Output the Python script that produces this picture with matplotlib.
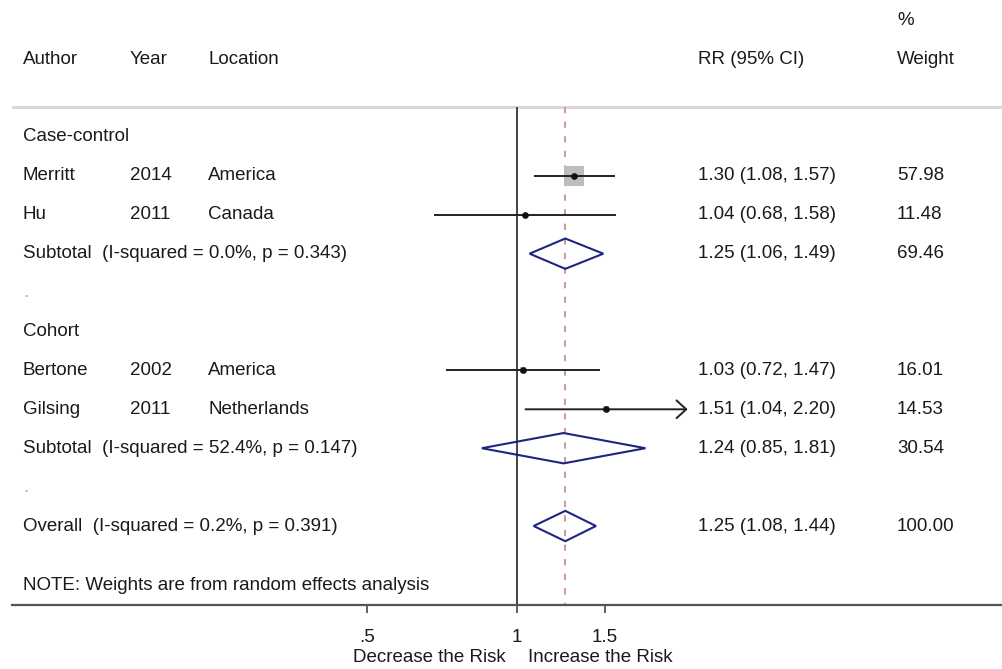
import matplotlib
matplotlib.use('Agg')
import matplotlib.pyplot as plt
import matplotlib.transforms as mtransforms
from matplotlib.patches import Polygon

plt.rcParams['font.family'] = ['Liberation Sans', 'DejaVu Sans']

# studies
authors = ['Merritt', 'Hu', 'Bertone', 'Gilsing']
years = ['2014', '2011', '2002', '2011']
locations = ['America', 'Canada', 'America', 'Netherlands']
study_rows = [1, 2, 6, 7]
rr = [1.30, 1.04, 1.03, 1.51]
lo = [1.08, 0.68, 0.72, 1.04]
hi = [1.57, 1.58, 1.47, 2.20]
weights = [57.98, 11.48, 16.01, 14.53]

# pooled estimates
pooled_labels = ['Subtotal  (I-squared = 0.0%, p = 0.343)',
                 'Subtotal  (I-squared = 52.4%, p = 0.147)',
                 'Overall  (I-squared = 0.2%, p = 0.391)']
pooled_rows = [3, 8, 10]
pooled_rr = [1.25, 1.24, 1.25]
pooled_lo = [1.06, 0.85, 1.08]
pooled_hi = [1.49, 1.81, 1.44]
pooled_w = [69.46, 30.54, 100.00]

group_labels = ['Case-control', 'Cohort']
group_rows = [0, 5]
dot_rows = [4, 9]

xticks = [0.5, 1, 1.5]
xticklabels = ['.5', '1', '1.5']
overall_rr = 1.25

txt = '#1a1a1a'
fs = 13.5

fig = plt.figure(figsize=(10.02, 6.69), dpi=100)
ax = fig.add_axes([12 / 1002, 64 / 669, 990 / 1002, 605 / 669])
ax.set_xscale('log')
ax.set_xlim(0.097, 9.4)
ax.set_ylim(12.03, -3.52)

for s in ['top', 'left', 'right']:
    ax.spines[s].set_visible(False)
ax.spines['bottom'].set_color('#555555')
ax.spines['bottom'].set_linewidth(1.6)
ax.set_yticks([])
ax.xaxis.set_major_locator(matplotlib.ticker.FixedLocator(xticks))
ax.xaxis.set_minor_locator(matplotlib.ticker.NullLocator())
ax.set_xticklabels(xticklabels)
ax.tick_params(axis='x', length=6, width=1.3, color='#555555', pad=11,
               labelsize=fs, labelcolor=txt)

# text columns (blended: figure-x, data-y)
tr = mtransforms.blended_transform_factory(fig.transFigure, ax.transData)
def col(px):
    return px / 1002

# header
ax.text(col(23), -2, 'Author', transform=tr, fontsize=fs, color=txt, va='center')
ax.text(col(130), -2, 'Year', transform=tr, fontsize=fs, color=txt, va='center')
ax.text(col(208), -2, 'Location', transform=tr, fontsize=fs, color=txt, va='center')
ax.text(col(698), -2, 'RR (95% CI)', transform=tr, fontsize=fs, color=txt, va='center')
ax.text(col(897), -3, '%', transform=tr, fontsize=fs, color=txt, va='center')
ax.text(col(897), -2, 'Weight', transform=tr, fontsize=fs, color=txt, va='center')
ax.axhline(-0.77, color='#d9d9d9', lw=2.2)

# reference lines
ax.vlines(1, -0.77, 12.03, color='#444444', lw=1.4)
ax.vlines(overall_rr, -0.77, 12.03, color='#cf9aa2', lw=1.5, linestyles=(0, (3, 4)))

for g, r in zip(group_labels, group_rows):
    ax.text(col(23), r, g, transform=tr, fontsize=fs, color=txt, va='center')
for r in dot_rows:
    ax.text(col(23), r, '.', transform=tr, fontsize=fs, color='#aaaaaa', va='center')

for i in range(len(authors)):
    r = study_rows[i]
    ax.text(col(23), r, authors[i], transform=tr, fontsize=fs, color=txt, va='center')
    ax.text(col(130), r, years[i], transform=tr, fontsize=fs, color=txt, va='center')
    ax.text(col(208), r, locations[i], transform=tr, fontsize=fs, color=txt, va='center')
    ax.text(col(698), r, '%.2f (%.2f, %.2f)' % (rr[i], lo[i], hi[i]), transform=tr,
            fontsize=fs, color=txt, va='center')
    ax.text(col(897), r, '%.2f' % weights[i], transform=tr, fontsize=fs, color=txt,
            va='center')
    ax.scatter([rr[i]], [r], s=(weights[i] * 0.25) ** 2, marker='s', color='#bdbdbd',
               linewidths=0, zorder=3)
    if hi[i] >= 2.2:
        ax.annotate('', xy=(hi[i], r), xytext=(lo[i], r),
                    arrowprops=dict(arrowstyle='->,head_length=0.35,head_width=0.32',
                                    mutation_scale=20, lw=1.4, color='#222222',
                                    shrinkA=0, shrinkB=0), zorder=4)
    else:
        ax.plot([lo[i], hi[i]], [r, r], color='#222222', lw=1.4, zorder=4,
                solid_capstyle='butt')
    ax.plot([rr[i]], [r], 'o', color='#111111', markersize=3.8, zorder=5)

for i in range(len(pooled_labels)):
    r = pooled_rows[i]
    ax.text(col(23), r, pooled_labels[i], transform=tr, fontsize=fs, color=txt,
            va='center')
    ax.text(col(698), r, '%.2f (%.2f, %.2f)' % (pooled_rr[i], pooled_lo[i], pooled_hi[i]),
            transform=tr, fontsize=fs, color=txt, va='center')
    ax.text(col(897), r, '%.2f' % pooled_w[i], transform=tr, fontsize=fs, color=txt,
            va='center')
    h = 0.39
    ax.add_patch(Polygon([(pooled_lo[i], r), (pooled_rr[i], r - h),
                          (pooled_hi[i], r), (pooled_rr[i], r + h)],
                         closed=True, fill=False, edgecolor='#1f2480', lw=1.5,
                         zorder=4))

ax.text(col(23), 11.52, 'NOTE: Weights are from random effects analysis', transform=tr,
        fontsize=fs, color=txt, va='center')

fig.text(506 / 1002, 1 - 657 / 669, 'Decrease the Risk', ha='right', va='center',
         fontsize=fs, color=txt)
fig.text(528 / 1002, 1 - 657 / 669, 'Increase the Risk', ha='left', va='center',
         fontsize=fs, color=txt)

fig.savefig('out.png', dpi=100, facecolor='white')
